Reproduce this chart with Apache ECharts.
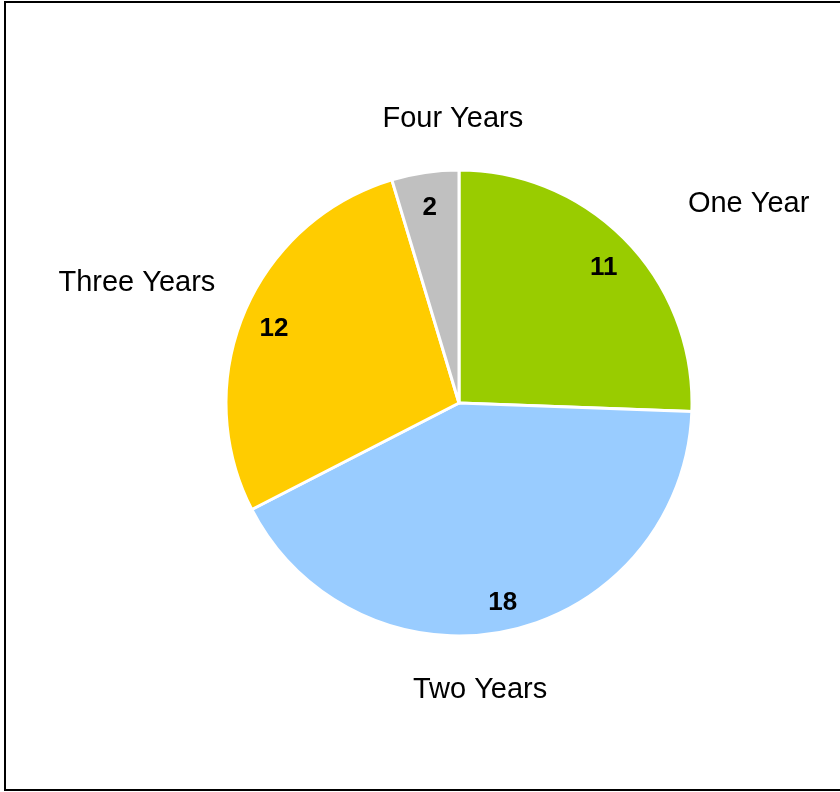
<!DOCTYPE html>
<html>
<head>
<meta charset="utf-8">
<script src="https://cdn.jsdelivr.net/npm/echarts@6/dist/echarts.min.js"></script>
<style>
html, body { margin: 0; padding: 0; background: #fff; }
#chart { width: 840px; height: 792px; }
</style>
</head>
<body>
<div id="chart"></div>
<script>
// data
const categories = ['One Year', 'Two Years', 'Three Years', 'Four Years'];
const counts = [11, 18, 12, 2];
const sliceColors = ['#99CC00', '#99CCFF', '#FFCC00', '#C0C0C0'];

// name labels are placed by a (hidden) label line per slice
const lineLen = [53, 61, 73, 54];
const lineLen2 = [18, -115, -43, -111];

const font = 'Liberation Sans, Arial, sans-serif';
const chart = echarts.init(document.getElementById('chart'));

const option = {
  backgroundColor: '#fff',
  animation: false,
  graphic: [{
    type: 'rect',
    shape: { x: 5, y: 2, width: 850, height: 788 },
    style: { fill: 'none', stroke: '#000', lineWidth: 2 },
    silent: true
  }],
  series: [
    {
      name: 'names',
      type: 'pie',
      center: [459, 403],
      radius: [0, 233],
      startAngle: 90,
      clockwise: true,
      avoidLabelOverlap: false,
      itemStyle: { borderColor: '#fff', borderWidth: 3 },
      label: {
        show: true,
        position: 'outside',
        alignTo: 'none',
        formatter: '{b}',
        color: '#000',
        fontFamily: font,
        fontSize: 29
      },
      labelLine: { show: false },
      emphasis: { disabled: true },
      data: categories.map((c, i) => ({
        name: c,
        value: counts[i],
        itemStyle: { color: sliceColors[i] },
        labelLine: { show: false, length: lineLen[i], length2: lineLen2[i] }
      }))
    },
    {
      name: 'values',
      type: 'pie',
      center: [459, 403],
      radius: [164, 232],
      startAngle: 90,
      clockwise: true,
      silent: true,
      itemStyle: { color: 'transparent', borderWidth: 0 },
      label: {
        show: true,
        position: 'inside',
        formatter: '{c}',
        color: '#000',
        fontFamily: font,
        fontWeight: 'bold',
        fontSize: 26
      },
      labelLayout: { dy: 4 },
      labelLine: { show: false },
      emphasis: { disabled: true },
      data: categories.map((c, i) => ({ name: c, value: counts[i] }))
    }
  ]
};

chart.setOption(option);
window.onresize = function () {
  chart.resize();
};
</script>
</body>
</html>
